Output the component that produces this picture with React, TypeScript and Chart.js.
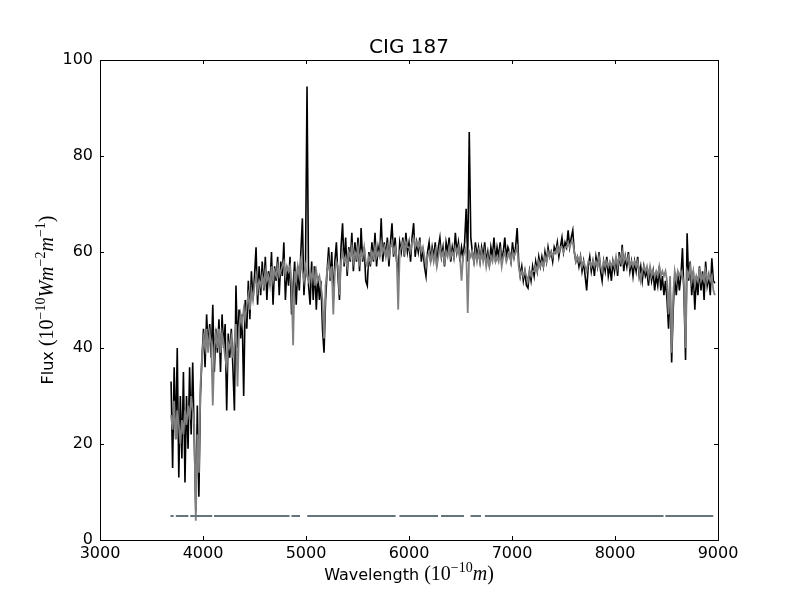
import React, { useEffect, useRef } from "react";
import { Chart, registerables } from "chart.js";

Chart.register(...registerables);

const TITLE = "CIG 187";
const WAVE_START = 3690;
const WAVE_STEP = 15;
const X_TICKS = [3000, 4000, 5000, 6000, 7000, 8000, 9000];
const Y_TICKS = [0, 20, 40, 60, 80, 100];

const blackFlux = [
  33, 15, 36, 21, 40, 13, 30, 17, 35, 12,
  30, 19, 36, 22, 37, 21, 6, 28, 9, 30,
  38, 44, 36, 47, 40, 45, 38, 49, 35, 44,
  39, 46, 35, 47, 40, 45, 27, 43, 38, 44,
  36, 27, 53, 40, 48, 42, 47, 30, 50, 44,
  54, 46, 56, 50, 55, 61, 49, 57, 51, 58,
  52, 59, 50, 56, 53, 60, 49, 57, 54, 59,
  51, 58, 55, 62, 50, 57, 53, 59, 47, 53,
  58, 49, 57, 52, 60, 67, 51, 57, 94.5, 53,
  49, 58, 50, 57, 48, 55, 50, 54, 44, 39,
  50, 56, 61, 54, 60, 50, 58, 62, 55, 50,
  61, 66, 57, 63, 55, 61, 58, 64, 56, 62,
  58, 63, 56, 65, 58, 61, 54, 53, 60, 57,
  62, 58, 64, 57, 61, 59, 67, 58, 62, 59,
  63, 57, 62, 66, 59, 63, 58, 56, 62, 60,
  63, 59, 64, 60, 62, 58, 63, 66, 59, 62,
  60, 63, 58, 61, 57, 55, 60, 62, 58, 61,
  59, 62, 57, 61, 63, 59, 61, 57, 62, 60,
  63, 58, 61, 59, 64, 60, 62, 58, 61, 59,
  62, 69, 58, 85, 63, 60, 58, 62, 59, 61,
  58, 61, 59, 62, 58, 60, 57, 61, 59, 63,
  58, 61, 59, 62, 58, 60, 63, 59, 61, 60,
  58, 62, 59, 61, 65, 58, 55, 57, 54, 56,
  53, 52.5, 56, 54, 57, 55, 58, 56, 59, 57,
  59, 57, 60, 58, 61, 59, 60, 58, 61, 60,
  62, 59, 61, 63, 60, 62, 61, 64.5, 61, 63,
  64.5, 60, 58, 59, 57, 59, 56, 58, 55, 52,
  57, 59, 56, 58, 55, 59, 57, 60, 56, 54,
  58, 56, 59, 55, 57, 54, 58, 56, 59, 55,
  60, 57, 61.5, 56, 59, 57, 60, 56, 58, 55,
  58, 56, 59, 55, 57, 54, 57, 55, 56, 53,
  57, 54, 56, 52, 55, 53, 57, 52, 55, 51,
  54, 50, 44, 53, 37, 48, 55, 51, 56, 52,
  55, 60.8, 51, 37.5, 63.9, 54, 58, 51, 56, 48,
  55, 51, 57, 52, 56, 50, 58, 53, 55, 51,
  58.7, 54, 53.5,
];

const grayFlux = [
  26, 23, 29, 21, 27, 24, 20, 25, 22, 27,
  24, 28, 25, 30, 27, 24, 4, 22, 14, 32,
  38, 42, 40, 44, 39, 43, 41, 28, 40, 43,
  40, 44, 39, 43, 41, 38, 36, 41, 40, 42,
  38, 41, 45, 32, 44, 47, 45, 48, 46, 49,
  51, 48, 52, 50, 53, 55, 52, 54, 53, 55,
  53, 56, 54, 55, 53, 57, 54, 56, 55, 57,
  55, 56, 57, 58, 55, 57, 56, 57, 53, 40.6,
  56, 54, 57, 55, 58, 56, 54, 57, 55, 54,
  56, 54, 57, 53, 56, 54, 55, 53, 50, 42,
  53, 56, 58, 55, 57, 47, 56, 58, 57, 51,
  58, 60, 58, 59, 57, 60, 59, 61, 58, 60,
  59, 61, 58, 60, 59, 61, 58, 57, 59, 58,
  60, 59, 61, 59, 60, 59, 62, 60, 61, 59,
  61, 59, 61, 62, 60, 61, 59, 48, 60, 61,
  62, 60, 62, 61, 61, 60, 62, 63, 61, 62,
  61, 62, 60, 61, 59, 57, 59, 60, 58, 60,
  58, 60, 57, 59, 61, 59, 60, 58, 60, 59,
  61, 59, 60, 59, 61, 60, 61, 59, 54, 59,
  60, 61, 47.3, 60, 59, 60, 58, 60, 58, 60,
  58, 60, 58, 60, 57, 59, 57, 59, 58, 60,
  58, 59, 58, 60, 57, 59, 60, 58, 59, 60,
  58, 60, 59, 60, 61, 57, 55, 56, 55, 56,
  55, 54, 56, 55, 56, 56, 57, 56, 58, 57,
  58, 57, 59, 58, 60, 59, 60, 59, 60, 60,
  61, 60, 61, 61, 60, 61, 61, 62, 61, 62,
  62, 60, 58, 59, 58, 59, 57, 58, 57, 56,
  58, 58, 57, 58, 57, 58, 57, 59, 57, 56,
  58, 57, 58, 57, 58, 57, 58, 57, 59, 57,
  59, 58, 60, 58, 59, 58, 59, 57, 58, 57,
  58, 57, 58, 56, 54, 56, 57, 56, 57, 55,
  57, 55, 56, 55, 56, 55, 57, 55, 56, 55,
  56, 54, 47, 55, 39, 51, 56, 54, 56, 55,
  56, 55, 53, 40, 56, 55, 57, 54, 56, 53,
  55, 54, 56, 54, 55, 54, 56, 54, 55, 54,
  55, 52, 51,
];

const MASK_LEVEL = 5;
const maskStart = [3685, 3736, 3876, 4107, 4859, 5012, 5907, 6311, 6597, 6737, 8489];
const maskEnd = [3715, 3858, 4090, 4840, 4942, 5870, 6282, 6534, 6699, 8471, 8954];

const SANS = "'DejaVu Sans', sans-serif";
const MATH = "'Liberation Serif', 'DejaVu Serif', serif";

type Part = { t: string; font: string; dy?: number };

function drawRich(ctx: CanvasRenderingContext2D, parts: Part[], cx: number, baseY: number) {
  let total = 0;
  const widths = parts.map((p) => {
    ctx.font = p.font;
    const w = ctx.measureText(p.t).width;
    total += w;
    return w;
  });
  let x = cx - total / 2;
  ctx.textAlign = "left";
  ctx.textBaseline = "alphabetic";
  parts.forEach((p, i) => {
    ctx.font = p.font;
    ctx.fillText(p.t, x, baseY + (p.dy || 0));
    x += widths[i];
  });
}

const decorPlugin = {
  id: "decor",
  afterDraw(chart: any) {
    const { ctx, chartArea, scales } = chart;
    const { left, right, top, bottom } = chartArea;
    ctx.save();
    ctx.strokeStyle = "#000";
    ctx.lineWidth = 1;
    ctx.strokeRect(Math.round(left) + 0.5, Math.round(top) + 0.5, Math.round(right - left), Math.round(bottom - top));
    const TL = 4;
    ctx.beginPath();
    X_TICKS.forEach((v) => {
      const px = Math.round(scales.x.getPixelForValue(v)) + 0.5;
      ctx.moveTo(px, bottom);
      ctx.lineTo(px, bottom - TL);
      ctx.moveTo(px, top);
      ctx.lineTo(px, top + TL);
    });
    Y_TICKS.forEach((v) => {
      const py = Math.round(scales.y.getPixelForValue(v)) + 0.5;
      ctx.moveTo(left, py);
      ctx.lineTo(left + TL, py);
      ctx.moveTo(right, py);
      ctx.lineTo(right - TL, py);
    });
    ctx.stroke();

    ctx.fillStyle = "#000";
    ctx.font = `20px ${SANS}`;
    ctx.textAlign = "center";
    ctx.textBaseline = "alphabetic";
    ctx.fillText(TITLE, (left + right) / 2, 53);

    const big = `16px ${SANS}`;
    const m = `20px ${MATH}`;
    const mi = `italic 20px ${MATH}`;
    const sup = `14px ${MATH}`;
    drawRich(
      ctx,
      [
        { t: "Wavelength ", font: big },
        { t: "(10", font: m },
        { t: "\u221210", font: sup, dy: -8 },
        { t: "m", font: mi },
        { t: ")", font: m },
      ],
      (left + right) / 2,
      580
    );
    ctx.translate(53, 300);
    ctx.rotate(-Math.PI / 2);
    drawRich(
      ctx,
      [
        { t: "Flux ", font: big },
        { t: "(10", font: m },
        { t: "\u221210", font: sup, dy: -8 },
        { t: "Wm", font: mi },
        { t: "\u22122", font: sup, dy: -8 },
        { t: "m", font: mi },
        { t: "\u22121", font: sup, dy: -8 },
        { t: ")", font: m },
      ],
      0,
      0
    );
    ctx.restore();
  },
};

export default function App() {
  const ref = useRef<HTMLCanvasElement | null>(null);
  useEffect(() => {
    if (!ref.current) return;
    const wavelengths = blackFlux.map((_, i) => WAVE_START + i * WAVE_STEP);
    const blackData = blackFlux.map((y, i) => ({ x: wavelengths[i], y }));
    const grayData = grayFlux.map((y, i) => ({ x: wavelengths[i], y }));
    const maskData: { x: number; y: number | null }[] = [];
    maskStart.forEach((s, i) => {
      maskData.push({ x: s, y: MASK_LEVEL });
      maskData.push({ x: maskEnd[i], y: MASK_LEVEL });
      maskData.push({ x: (maskEnd[i] + (maskStart[i + 1] ?? maskEnd[i])) / 2, y: null });
    });
    const chart = new Chart(ref.current, {
      type: "line",
      data: {
        datasets: [
          { data: maskData as any, borderColor: "#66747b", borderWidth: 2, pointRadius: 0, spanGaps: false, order: 0 },
          { data: grayData, borderColor: "#808080", borderWidth: 1.8, pointRadius: 0, order: 1 },
          { data: blackData, borderColor: "#000000", borderWidth: 1.6, pointRadius: 0, order: 2 },
        ],
      },
      options: {
        animation: false,
        responsive: false,
        devicePixelRatio: 1,
        layout: { padding: { left: 0, right: 82, top: 60, bottom: 0 } },
        plugins: { legend: { display: false }, tooltip: { enabled: false }, title: { display: false } },
        elements: { line: { tension: 0 } },
        scales: {
          x: {
            type: "linear",
            min: 3000,
            max: 9000,
            grid: { display: false, drawTicks: false },
            border: { display: false },
            afterFit: (s: any) => {
              s.height = 60;
            },
            afterBuildTicks: (s: any) => {
              s.ticks = X_TICKS.map((v) => ({ value: v }));
            },
            ticks: {
              autoSkip: false,
              maxRotation: 0,
              padding: 4,
              color: "#000",
              font: { family: SANS, size: 16 },
              callback: (v: any) => String(v),
            },
          },
          y: {
            type: "linear",
            min: 0,
            max: 100,
            grid: { display: false, drawTicks: false },
            border: { display: false },
            afterFit: (s: any) => {
              s.width = 100;
            },
            afterBuildTicks: (s: any) => {
              s.ticks = Y_TICKS.map((v) => ({ value: v }));
            },
            ticks: {
              autoSkip: false,
              padding: 7,
              color: "#000",
              font: { family: SANS, size: 16 },
              callback: (v: any) => String(v),
            },
          },
        },
      },
      plugins: [decorPlugin],
    });
    return () => chart.destroy();
  }, []);
  return (
    <div style={{ position: "absolute", left: 0, top: 0, width: 800, height: 600, background: "#fff" }}>
      <canvas ref={ref} width={800} height={600} style={{ display: "block" }} />
    </div>
  );
}
